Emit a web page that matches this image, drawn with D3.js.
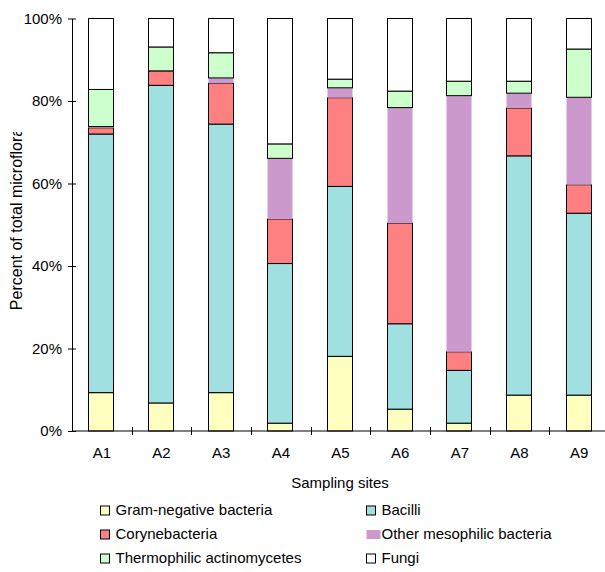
<!DOCTYPE html>
<html>
<head>
<meta charset="utf-8">
<script src="https://cdn.jsdelivr.net/npm/d3@7"></script>
<style>
  body { margin: 0; background: #fff; }
  text { font-family: "Liberation Sans", Arial, sans-serif; fill: #000; }
  .axis path, .axis line { stroke: #000; }
</style>
</head>
<body>
<div id="the_chart"></div>
<script>
// sites and percentages
var sites = ["A1", "A2", "A3", "A4", "A5", "A6", "A7", "A8", "A9"];
var groups = ["Gram-negative bacteria", "Bacilli", "Corynebacteria",
              "Other mesophilic bacteria", "Thermophilic actinomycetes", "Fungi"];
var gramNeg  = [9.3, 6.8, 9.3, 1.9, 18.1, 5.3, 1.9, 8.7, 8.7];
var bacilli  = [62.7, 77.0, 65.1, 38.7, 41.2, 20.7, 12.8, 58.0, 44.1];
var coryne   = [1.5, 3.5, 9.9, 10.8, 21.5, 24.4, 4.5, 11.6, 6.9];
var otherMes = [0.3, 0, 1.3, 14.7, 2.4, 28.0, 62.1, 3.6, 21.2];
var thermo   = [9.0, 5.8, 6.1, 3.5, 2.1, 4.0, 3.5, 2.9, 11.7];
var fungi    = [17.2, 6.9, 8.3, 30.4, 14.7, 17.6, 15.2, 15.2, 7.4];
var yTicks = [0, 20, 40, 60, 80, 100];

var colors = ["#ffffc0", "#a0e0e0", "#ff8080", "#cc99cc", "#ccffcc", "#ffffff"];

var w = 605, h = 572;
var pLeft = 72, pRight = 609, pTop = 18.5, pBottom = 431;

var dataset = sites.map(function (s, i) {
  return { site: s, "Gram-negative bacteria": gramNeg[i], "Bacilli": bacilli[i],
           "Corynebacteria": coryne[i], "Other mesophilic bacteria": otherMes[i],
           "Thermophilic actinomycetes": thermo[i], "Fungi": fungi[i] };
});

var svg = d3.select("#the_chart").append("svg")
            .attr("width", w).attr("height", h);

var xscale = d3.scaleBand().domain(sites).range([pLeft, pRight]).padding(0);
var yscale = d3.scaleLinear().domain([0, 100]).range([pBottom, pTop]);
var color = d3.scaleOrdinal().domain(groups).range(colors);

var stack = d3.stack().keys(groups);
var layers = stack(dataset);

var barW = 25;
svg.selectAll("g.layer")
   .data(layers)
   .enter().append("g")
   .attr("class", "layer")
   .attr("fill", function (d) { return color(d.key); })
   .attr("stroke", function (d) { return d.key == "Other mesophilic bacteria" ? "none" : "#000"; })
   .selectAll("rect")
   .data(function (d) { return d.filter(function (p) { return p[1] - p[0] > 0; }); })
   .enter().append("rect")
   .attr("x", function (d) { return Math.round(xscale(d.data.site) + (xscale.bandwidth() - barW) / 2 - 1) + 0.5; })
   .attr("width", barW)
   .attr("y", function (d) { return yscale(d[1]); })
   .attr("height", function (d) { return yscale(d[0]) - yscale(d[1]); });

// y axis
var yaxis = d3.axisLeft(yscale).tickValues(yTicks)
              .tickFormat(function (d) { return d + "%"; })
              .tickSizeInner(4).tickSizeOuter(0).tickPadding(6);
var yg = svg.append("g").attr("class", "axis")
   .attr("transform", "translate(" + pLeft + ",0)")
   .call(yaxis);
yg.selectAll(".tick line").attr("x1", 4).attr("x2", -4);
yg.selectAll("text").style("font-size", "15px");

// x axis: line plus boundary ticks, labels centred in bands
var xg = svg.append("g").attr("class", "axis")
   .attr("transform", "translate(0," + pBottom + ")");
xg.append("line").attr("x1", pLeft).attr("x2", pRight).attr("stroke", "#000");
xg.selectAll(".bound")
  .data(sites.slice(1))
  .enter().append("line")
  .attr("class", "bound")
  .attr("x1", function (d) { return Math.round(xscale(d)) + 0.5; })
  .attr("x2", function (d) { return Math.round(xscale(d)) + 0.5; })
  .attr("y1", -4).attr("y2", 4)
  .attr("stroke", "#000");
xg.selectAll(".lab")
  .data(sites)
  .enter().append("text")
  .attr("x", function (d) { return xscale(d) + xscale.bandwidth() / 2; })
  .attr("y", 26.5)
  .attr("text-anchor", "middle")
  .style("font-size", "15px")
  .text(function (d) { return d; });

// axis titles
svg.append("text")
   .attr("x", (pLeft + pRight) / 2 - 0.5)
   .attr("y", 488)
   .attr("text-anchor", "middle")
   .style("font-size", "15px")
   .text("Sampling sites");

// the original cuts the top of the y title off, keep that
svg.append("clipPath").attr("id", "yclip")
   .append("rect").attr("x", 0).attr("y", 132).attr("width", 40).attr("height", 300);
svg.append("g")
   .attr("clip-path", "url(#yclip)")
   .append("text")
   .attr("transform", "translate(22,219) rotate(-90)")
   .attr("text-anchor", "middle")
   .style("font-size", "16px")
   .text("Percent of total microflora");

// legend, two columns
var legend = svg.selectAll("g.leg")
   .data(groups)
   .enter().append("g")
   .attr("class", "leg")
   .attr("transform", function (d, i) {
     return "translate(" + (i % 2 == 0 ? 100.5 : 366.5) + "," + (515 + Math.floor(i / 2) * 24) + ")";
   });
legend.append("rect")
   .attr("x", 0)
   .attr("y", -9)
   .attr("width", function (d) { return d == "Other mesophilic bacteria" ? 14 : 9; })
   .attr("height", 9)
   .attr("fill", function (d) { return color(d); })
   .attr("stroke", function (d) { return d == "Other mesophilic bacteria" ? "none" : "#000"; });
legend.append("text")
   .attr("x", 15)
   .attr("y", 0)
   .style("font-size", "15px")
   .text(function (d) { return d; });
</script>
</body>
</html>
